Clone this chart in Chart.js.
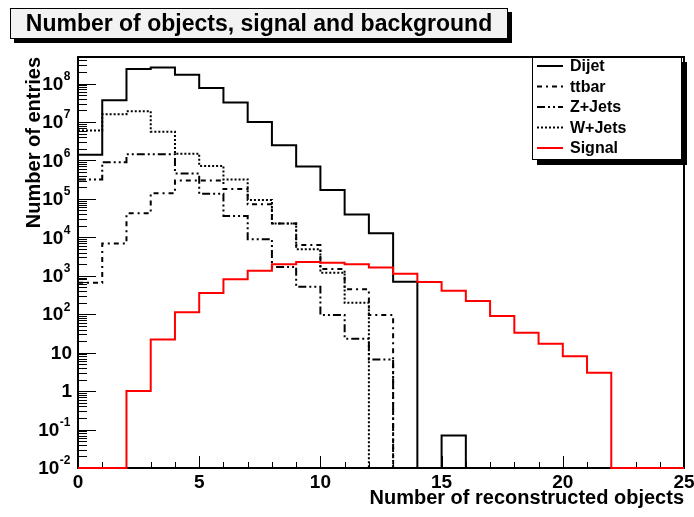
<!DOCTYPE html>
<html>
<head>
<meta charset="utf-8">
<script src="https://cdn.jsdelivr.net/npm/chart.js@4.4.0/dist/chart.umd.min.js"></script>
<style>
  body { margin: 0; background: #fff; }
  canvas { display: block; }
</style>
</head>
<body>
<canvas id="myChart" width="694" height="517"></canvas>
<script>
// histogram binning: 25 bins of width 1 between 0 and 25
const binEdges = [0, 1, 2, 3, 4, 5, 6, 7, 8, 9, 10, 11, 12, 13, 14, 15, 16, 17, 18, 19, 20, 21, 22, 23, 24, 25];

// entries per bin (0 = empty bin, drawn on the frame floor like ROOT does)
const dijet = [1.4e6, 3.7e7, 2.4e8, 2.6e8, 1.7e8, 7.7e7, 3.2e7, 1.0e7, 2.5e6, 6.9e5, 1.7e5, 3.9e4, 1.27e4, 700, 0, 0.07, 0, 0, 0, 0, 0, 0, 0, 0, 0];
const ttbar = [660, 6900, 4.2e4, 1.4e5, 3.0e5, 3.0e5, 1.8e5, 7.2e4, 2.3e4, 6300, 1500, 445, 95, 0, 0, 0, 0, 0, 0, 0, 0, 0, 0, 0, 0];
const zjets = [3.2e5, 9.0e5, 1.45e6, 1.45e6, 4.6e5, 1.35e5, 3.6e4, 8900, 1700, 520, 95, 23, 6.6, 0, 0, 0, 0, 0, 0, 0, 0, 0, 0, 0, 0];
const wjets = [6.0e6, 1.6e7, 1.9e7, 5.6e6, 1.5e6, 7.2e5, 3.2e5, 9.3e4, 2.3e4, 4900, 1200, 200, 0, 0, 0, 0, 0, 0, 0, 0, 0, 0, 0, 0, 0];
const signal = [0, 0, 1, 22, 113, 355, 810, 1350, 2000, 2280, 2180, 2000, 1650, 1130, 685, 405, 220, 90, 33, 17, 8.1, 3.0, 0, 0, 0];

const seriesNames = ['Dijet', 'ttbar', 'Z+Jets', 'W+Jets', 'Signal'];

// axes
const X_MIN = 0, X_MAX = 25;
const Y_MIN = 1e-2, Y_MAX = 4.9e8;
const xTickValues = [0, 5, 10, 15, 20, 25];
const xTickLabels = ['0', '5', '10', '15', '20', '25'];
const yTickExponents = [-2, -1, 0, 1, 2, 3, 4, 5, 6, 7, 8];

const FONT = '"Liberation Sans", Arial, sans-serif';

// left edge of every bin + closing point at the right edge
function histPoints(values) {
    const pts = values.map((v, i) => ({ x: binEdges[i], y: v > 0 ? v : Y_MIN }));
    pts.push({ x: binEdges[values.length], y: pts[pts.length - 1].y });
    return pts;
}

const styles = {
    'Dijet':  { color: '#000', dash: [] },
    'ttbar':  { color: '#000', dash: [5, 4, 2, 4] },
    'Z+Jets': { color: '#000', dash: [8, 3, 2, 3, 2, 3] },
    'W+Jets': { color: '#000', dash: [2, 2] },
    'Signal': { color: '#ff0000', dash: [] }
};

function makeSet(name, values, order) {
    return {
        label: name,
        data: histPoints(values),
        borderColor: styles[name].color,
        borderDash: styles[name].dash,
        borderWidth: 2,
        stepped: 'before', // horizontal across the bin, then vertical at its right edge
        pointRadius: 0,
        fill: false,
        clip: 4,
        order: order
    };
}

const rootStyle = {
    id: 'rootStyle',
    beforeDatasetsDraw(chart) {
        const { ctx, chartArea: a, scales: { x, y } } = chart;
        ctx.save();
        ctx.strokeStyle = '#000';
        ctx.lineWidth = 1;
        ctx.beginPath();
        // x ticks, inside the frame
        for (let v = X_MIN; v <= X_MAX; v++) {
            const px = Math.round(x.getPixelForValue(v)) + 0.5;
            const len = v % 5 === 0 ? 12 : 6;
            ctx.moveTo(px, a.bottom);
            ctx.lineTo(px, a.bottom - len);
        }
        // y ticks, decades long, 2..9 short
        for (const e of yTickExponents) {
            for (let k = 1; k <= 9; k++) {
                const v = k * Math.pow(10, e);
                if (v > Y_MAX) break;
                const py = Math.round(y.getPixelForValue(v)) + 0.5;
                const len = k === 1 ? 18 : 9;
                ctx.moveTo(a.left, py);
                ctx.lineTo(a.left + len, py);
            }
        }
        ctx.stroke();
        ctx.lineWidth = 2;
        ctx.strokeRect(a.left, a.top, a.right - a.left, a.bottom - a.top);
        ctx.restore();
    },
    afterDraw(chart) {
        const { ctx, chartArea: a, scales: { x, y } } = chart;
        ctx.save();
        ctx.fillStyle = '#000';

        // x tick labels
        ctx.font = 'bold 19px ' + FONT;
        ctx.textAlign = 'center';
        ctx.textBaseline = 'alphabetic';
        xTickValues.forEach((v, i) => {
            ctx.fillText(xTickLabels[i], x.getPixelForValue(v), a.bottom + 20);
        });

        // y tick labels with raised exponent
        ctx.textBaseline = 'middle';
        ctx.textAlign = 'left';
        for (const e of yTickExponents) {
            const py = y.getPixelForValue(Math.pow(10, e));
            ctx.font = 'bold 19px ' + FONT;
            if (e === 0 || e === 1) {
                const txt = e === 0 ? '1' : '10';
                ctx.fillText(txt, 72 - ctx.measureText(txt).width, py + 1);
            } else {
                const wb = ctx.measureText('10').width;
                ctx.font = 'bold 12px ' + FONT;
                const we = ctx.measureText(String(e)).width;
                const x0 = 70 - wb - we;
                ctx.font = 'bold 19px ' + FONT;
                ctx.fillText('10', x0, py + 1);
                ctx.font = 'bold 12px ' + FONT;
                ctx.fillText(String(e), x0 + wb + 0.5, py - 7);
            }
        }

        // axis titles
        ctx.font = 'bold 20px ' + FONT;
        ctx.textAlign = 'right';
        ctx.textBaseline = 'alphabetic';
        ctx.fillText('Number of reconstructed objects', a.right, 504);
        ctx.save();
        ctx.translate(40, a.top);
        ctx.rotate(-Math.PI / 2);
        ctx.fillText('Number of entries', 0, 0);
        ctx.restore();

        // title box with shadow
        ctx.fillStyle = '#000';
        ctx.fillRect(14, 12, 498, 31);
        ctx.fillStyle = '#f2f2f2';
        ctx.fillRect(10, 8, 498, 31);
        ctx.lineWidth = 1;
        ctx.strokeStyle = '#000';
        ctx.strokeRect(10.5, 8.5, 497, 30);
        ctx.fillStyle = '#000';
        ctx.font = 'bold 23px ' + FONT;
        ctx.textAlign = 'center';
        ctx.fillText('Number of objects, signal and background', 259, 31);

        // legend box with shadow
        const lx = 532, ly = 57, lw = 150, lh = 103;
        ctx.fillRect(lx + 5, ly + 5, lw, lh);
        ctx.fillStyle = '#fff';
        ctx.fillRect(lx, ly, lw, lh);
        ctx.strokeRect(lx + 0.5, ly + 0.5, lw - 1, lh - 1);
        ctx.font = 'bold 16px ' + FONT;
        ctx.textAlign = 'left';
        ctx.textBaseline = 'middle';
        seriesNames.forEach((name, i) => {
            const ry = 66 + i * 20.5;
            ctx.strokeStyle = styles[name].color;
            ctx.lineWidth = 2;
            ctx.setLineDash(styles[name].dash);
            ctx.beginPath();
            ctx.moveTo(537, ry);
            ctx.lineTo(563, ry);
            ctx.stroke();
            ctx.setLineDash([]);
            ctx.fillStyle = '#000';
            ctx.fillText(name, 570, ry + 1);
        });
        ctx.restore();
    }
};

const ctx = document.getElementById('myChart').getContext('2d');
const myChart = new Chart(ctx, {
    type: 'line',
    data: {
        datasets: [
            makeSet('Signal', signal, 0),
            makeSet('W+Jets', wjets, 1),
            makeSet('Z+Jets', zjets, 2),
            makeSet('ttbar', ttbar, 3),
            makeSet('Dijet', dijet, 4)
        ]
    },
    options: {
        responsive: false,
        animation: false,
        layout: { padding: { left: 78, right: 10, top: 57, bottom: 49 } },
        plugins: { legend: { display: false }, tooltip: { enabled: false } },
        scales: {
            x: { type: 'linear', min: X_MIN, max: X_MAX, display: false },
            y: { type: 'logarithmic', min: Y_MIN, max: Y_MAX, display: false }
        }
    },
    plugins: [rootStyle]
});
</script>
</body>
</html>
